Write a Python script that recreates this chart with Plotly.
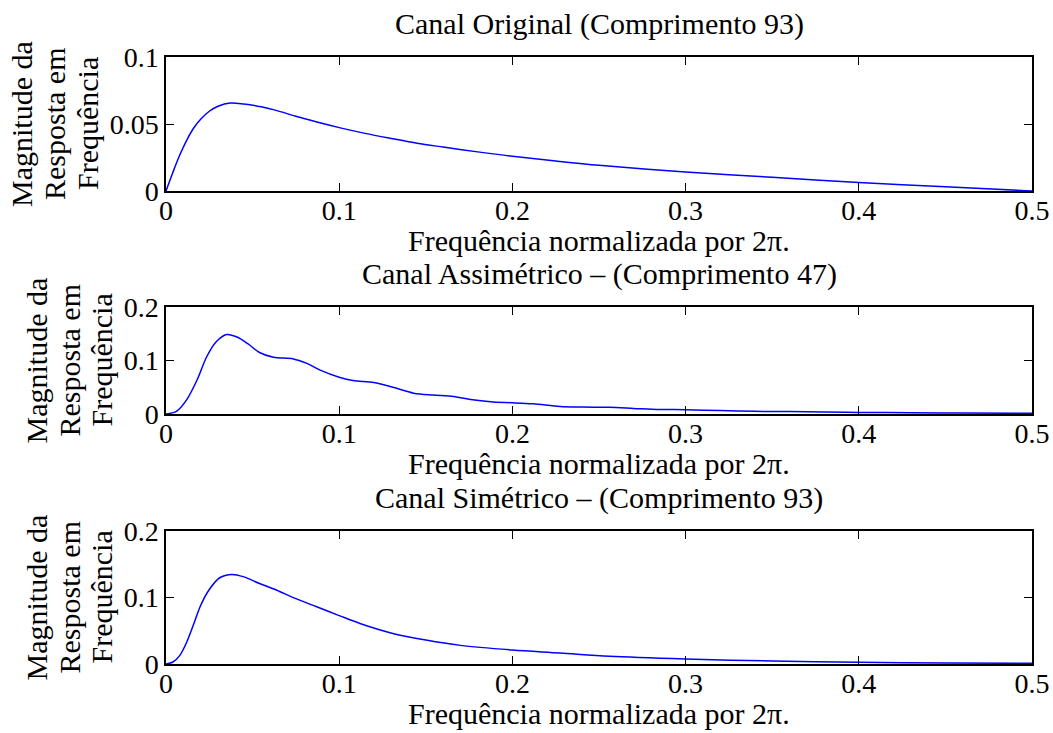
import plotly.graph_objects as go

# Normalised frequency (cycles/sample, i.e. divided by 2*pi) and |H(f)| for each channel
freq_original = [0, 0.004, 0.008, 0.012, 0.016, 0.02, 0.025, 0.03, 0.037, 0.045,
                 0.055, 0.065, 0.075, 0.09, 0.1, 0.115, 0.13, 0.145, 0.16, 0.18,
                 0.2, 0.225, 0.25, 0.3, 0.35, 0.4, 0.45, 0.5]
mag_original = [0, 0.014, 0.027, 0.038, 0.047, 0.0535, 0.0595, 0.0632, 0.0657, 0.0649,
                0.0628, 0.0596, 0.0558, 0.0505, 0.0473, 0.043, 0.0392, 0.0356, 0.0328, 0.0292,
                0.0259, 0.0224, 0.0192, 0.0142, 0.0102, 0.0063, 0.0032, 0.0]

freq_assim = [0, 0.006, 0.012, 0.018, 0.0235, 0.029, 0.035, 0.041, 0.047, 0.054,
              0.062, 0.0735, 0.081, 0.089, 0.1, 0.108, 0.12, 0.131, 0.143, 0.154,
              0.166, 0.177, 0.189, 0.2, 0.212, 0.2275, 0.24, 0.256, 0.27, 0.285,
              0.3, 0.32, 0.34, 0.36, 0.38, 0.4, 0.43, 0.46, 0.5]
mag_assim = [0, 0.005, 0.027, 0.064, 0.107, 0.135, 0.1486, 0.144, 0.132, 0.115,
             0.106, 0.103, 0.095, 0.082, 0.0687, 0.0625, 0.059, 0.05, 0.039, 0.0353,
             0.0328, 0.0266, 0.0223, 0.021, 0.019, 0.0142, 0.013, 0.0124, 0.0105, 0.0085,
             0.008, 0.0065, 0.005, 0.0048, 0.0038, 0.003, 0.0025, 0.0018, 0.0012]

freq_sim = [0, 0.004, 0.008, 0.012, 0.016, 0.02, 0.025, 0.031, 0.038, 0.045,
            0.054, 0.064, 0.0735, 0.087, 0.1, 0.112, 0.131, 0.15, 0.17, 0.2,
            0.2275, 0.256, 0.3, 0.35, 0.4, 0.45, 0.5]
mag_sim = [0, 0.003, 0.013, 0.033, 0.06, 0.088, 0.112, 0.1297, 0.1347, 0.131,
           0.121, 0.111, 0.0998, 0.086, 0.0728, 0.061, 0.046, 0.036, 0.028, 0.021,
           0.0165, 0.0115, 0.0075, 0.0045, 0.0025, 0.0015, 0.001]

x_ticks = [0, 0.1, 0.2, 0.3, 0.4, 0.5]
x_tick_text = ["0", "0.1", "0.2", "0.3", "0.4", "0.5"]
y_ticks_top = [0, 0.05, 0.1]
y_tick_text_top = ["0", "0.05", "0.1"]
y_ticks_low = [0, 0.1, 0.2]
y_tick_text_low = ["0", "0.1", "0.2"]

titles = ["Canal Original (Comprimento 93)",
          "Canal Assimétrico – (Comprimento 47)",
          "Canal Simétrico – (Comprimento 93)"]
x_label = "Frequência normalizada por 2π."
y_label_lines = ["Magnitude da", "Resposta em", "Frequência"]

W, H = 1053, 733
FONT = "Liberation Serif"
FS = 30
TICK_FS = 28

# panel boxes in pixels: (top, bottom); shared left/right edges
left_px, right_px = 166, 1032
panels = [(57, 191), (307, 414), (531, 664)]
ylab_x = [(21, 54, 87), (36, 69, 101), (36, 69, 101)]

fig = go.Figure()
series = [(freq_original, mag_original), (freq_assim, mag_assim), (freq_sim, mag_sim)]
for i, (fx, fy) in enumerate(series):
    fig.add_trace(go.Scatter(
        x=fx, y=fy, mode="lines",
        line=dict(color="#0000ff", width=1.5, shape="spline", smoothing=0.9),
        xaxis=f"x{i + 1}" if i else "x", yaxis=f"y{i + 1}" if i else "y",
        showlegend=False, hoverinfo="skip"))

layout = dict(
    width=W, height=H, autosize=False,
    margin=dict(l=0, r=0, t=0, b=0, autoexpand=False),
    paper_bgcolor="white", plot_bgcolor="white",
    font=dict(family=FONT, size=FS, color="black"),
    annotations=[],
)

axis_common = dict(
    showline=True, linecolor="black", linewidth=1.5, mirror="ticks",
    ticks="inside", ticklen=8, tickwidth=1, tickcolor="black",
    showgrid=False, zeroline=False, fixedrange=True, automargin=False,
    tickfont=dict(family=FONT, size=TICK_FS, color="black"),
)

for i, (top, bot) in enumerate(panels):
    sfx = str(i + 1) if i else ""
    ydom = [1 - bot / H, 1 - top / H]
    layout[f"xaxis{sfx}"] = dict(
        axis_common, domain=[left_px / W, right_px / W], range=[0, 0.5],
        tickmode="array", tickvals=x_ticks, ticktext=x_tick_text,
        anchor=f"y{sfx}", ticklabelstandoff=-6)
    if i == 0:
        yt, ytt, yr = y_ticks_top, y_tick_text_top, [0, 0.1]
    else:
        yt, ytt, yr = y_ticks_low, y_tick_text_low, [0, 0.2]
    layout[f"yaxis{sfx}"] = dict(
        axis_common, domain=ydom, range=yr,
        tickmode="array", tickvals=yt, ticktext=ytt,
        anchor=f"x{sfx}", ticklabelstandoff=0)

    cx = (left_px + right_px) / 2 / W
    cy = (top + bot) / 2
    layout["annotations"].append(dict(
        text=titles[i], x=cx, y=1 - (top - 33) / H, xref="paper", yref="paper",
        xanchor="center", yanchor="middle", showarrow=False,
        font=dict(family=FONT, size=FS, color="black")))
    layout["annotations"].append(dict(
        text=x_label, x=cx, y=1 - (bot + 49) / H, xref="paper", yref="paper",
        xanchor="center", yanchor="middle", showarrow=False,
        font=dict(family=FONT, size=FS, color="black")))
    for line, lx in zip(y_label_lines, ylab_x[i]):
        layout["annotations"].append(dict(
            text=line, x=lx / W, y=1 - cy / H, xref="paper", yref="paper",
            xanchor="center", yanchor="middle", textangle=-90, showarrow=False,
            font=dict(family=FONT, size=FS, color="black")))

fig.update_layout(**layout)
fig.write_html("out.html")
